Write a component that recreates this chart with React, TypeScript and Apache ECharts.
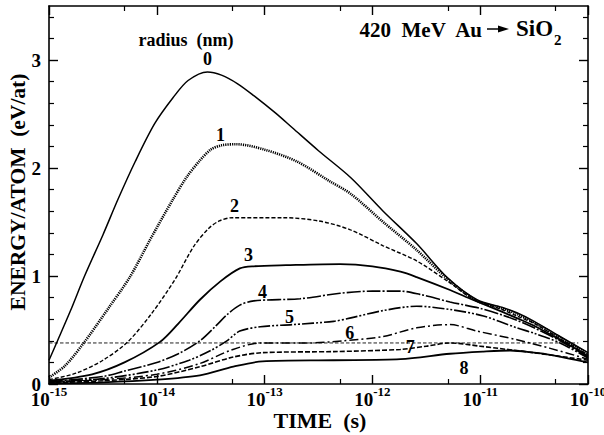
import React, { useEffect, useRef } from "react";
import * as echarts from "echarts";

const FONT = "Liberation Serif, Times New Roman, serif";

// log10(time / s) vs energy per atom (eV/at), one array per radius (nm)
const r0: [number, number][] = [
  [-15, 0.22], [-14.93, 0.38], [-14.8, 0.68], [-14.67, 1.0], [-14.5, 1.38], [-14.36, 1.71],
  [-14.2, 2.06], [-14.02, 2.41], [-13.85, 2.65], [-13.71, 2.81], [-13.53, 2.89], [-13.4, 2.86],
  [-13.25, 2.78], [-13.1, 2.67], [-12.9, 2.51], [-12.74, 2.37], [-12.5, 2.16], [-12.2, 1.91],
  [-11.9, 1.6], [-11.59, 1.3], [-11.3, 0.98], [-11.03, 0.78], [-10.8, 0.71], [-10.66, 0.66],
  [-10.5, 0.58], [-10.26, 0.44], [-10, 0.29],
];
const r1: [number, number][] = [
  [-15, 0.06], [-14.85, 0.17], [-14.67, 0.39], [-14.45, 0.7], [-14.25, 0.99], [-14.06, 1.34],
  [-13.85, 1.71], [-13.72, 1.92], [-13.6, 2.07], [-13.5, 2.17], [-13.4, 2.21], [-13.26, 2.22],
  [-13.0, 2.17], [-12.7, 2.06], [-12.4, 1.88], [-12.2, 1.76], [-11.9, 1.5], [-11.6, 1.25],
  [-11.3, 0.97], [-11.03, 0.77], [-10.8, 0.7], [-10.66, 0.65], [-10.5, 0.57], [-10.26, 0.43],
  [-10, 0.28],
];
const r2: [number, number][] = [
  [-15, 0.04], [-14.75, 0.1], [-14.5, 0.22], [-14.27, 0.39], [-14.05, 0.65], [-13.83, 0.97],
  [-13.66, 1.27], [-13.52, 1.44], [-13.42, 1.51], [-13.3, 1.54], [-12.83, 1.54], [-12.5, 1.51],
  [-12.21, 1.43], [-11.9, 1.28], [-11.59, 1.14], [-11.3, 0.95], [-11.07, 0.79], [-10.8, 0.69],
  [-10.66, 0.63], [-10.5, 0.56], [-10.26, 0.42], [-10, 0.27],
];
const r3: [number, number][] = [
  [-15, 0.03], [-14.6, 0.09], [-14.3, 0.2], [-13.97, 0.39], [-13.8, 0.56], [-13.6, 0.78],
  [-13.41, 0.95], [-13.23, 1.07], [-13.1, 1.09], [-12.8, 1.1], [-12.3, 1.11], [-12.0, 1.09],
  [-11.74, 1.04], [-11.59, 0.99], [-11.28, 0.87], [-11.07, 0.78], [-10.8, 0.67], [-10.66, 0.61],
  [-10.5, 0.54], [-10.26, 0.41], [-10, 0.26],
];
const r4: [number, number][] = [
  [-15, 0.02], [-14.5, 0.07], [-14.3, 0.12], [-14.0, 0.2], [-13.8, 0.28], [-13.6, 0.4],
  [-13.45, 0.54], [-13.35, 0.64], [-13.23, 0.73], [-13.1, 0.77], [-12.67, 0.79], [-12.3, 0.84],
  [-12.0, 0.86], [-11.74, 0.86], [-11.56, 0.83], [-11.28, 0.76], [-11.0, 0.7], [-10.8, 0.64],
  [-10.66, 0.59], [-10.5, 0.52], [-10.26, 0.4], [-10, 0.25],
];
const r5: [number, number][] = [
  [-15, 0.02], [-14.5, 0.05], [-14.0, 0.13], [-13.7, 0.22], [-13.5, 0.31], [-13.35, 0.4],
  [-13.23, 0.49], [-13.04, 0.53], [-12.74, 0.55], [-12.36, 0.58], [-12.21, 0.61], [-11.9, 0.68],
  [-11.59, 0.72], [-11.28, 0.69], [-10.97, 0.63], [-10.66, 0.52], [-10.5, 0.47], [-10.26, 0.38],
  [-10, 0.24],
];
const r6: [number, number][] = [
  [-15, 0.015], [-14.5, 0.04], [-14.0, 0.09], [-13.6, 0.19], [-13.32, 0.31], [-13.04, 0.38],
  [-12.6, 0.38], [-12.27, 0.4], [-11.9, 0.44], [-11.59, 0.52], [-11.28, 0.55], [-11.03, 0.49],
  [-10.66, 0.41], [-10.35, 0.33], [-10, 0.23],
];
const r7: [number, number][] = [
  [-15, 0.01], [-14.5, 0.03], [-14.0, 0.07], [-13.6, 0.16], [-13.29, 0.25], [-13.02, 0.29],
  [-12.36, 0.3], [-11.74, 0.32], [-11.5, 0.35], [-11.28, 0.38], [-11.0, 0.35], [-10.51, 0.29],
  [-10, 0.22],
];
const r8: [number, number][] = [
  [-15, 0.005], [-14.5, 0.015], [-14.0, 0.04], [-13.6, 0.08], [-13.29, 0.16], [-13.02, 0.21],
  [-12.36, 0.22], [-11.74, 0.23], [-11.28, 0.28], [-10.97, 0.3], [-10.72, 0.31], [-10.5, 0.29],
  [-10.35, 0.27], [-10, 0.2],
];
const reference: [number, number][] = [[-15, 0.38], [-10.09, 0.38]];

const curveNames = ["0", "1", "2", "3", "4", "5", "6", "7", "8"];
const labelX = [-13.53, -13.41, -13.28, -13.15, -13.02, -12.77, -12.21, -11.65, -11.15];
const labelY = [3.01, 2.31, 1.65, 1.19, 0.855, 0.62, 0.47, 0.34, 0.15];

const majorX = [-15, -14, -13, -12, -11, -10];
const minorX = [-14.301, -13.301, -12.301, -11.301, -10.301];
const majorY = [0, 1, 2, 3];
const minorY = [0.2, 0.4, 0.6, 0.8, 1.2, 1.4, 1.6, 1.8, 2.2, 2.4, 2.6, 2.8, 3.2, 3.4];

const curves = [r0, r1, r2, r3, r4, r5, r6, r7, r8];
const styles: { type: any; width: number }[] = [
  { type: "solid", width: 1.5 },
  { type: [1.2, 1], width: 2.6 },
  { type: [4, 2], width: 1.4 },
  { type: "solid", width: 1.8 },
  { type: [14, 2, 2, 2], width: 1.6 },
  { type: [12, 2, 2, 2, 2, 2], width: 1.6 },
  { type: [9, 3, 2, 3], width: 1.5 },
  { type: [5, 2], width: 1.6 },
  { type: "solid", width: 1.8 },
];

export default function App() {
  const ref = useRef<HTMLDivElement>(null);
  useEffect(() => {
    if (!ref.current) return;
    const chart = echarts.init(ref.current, null, { renderer: "svg" });
    const axisLine = { show: true, onZero: false, lineStyle: { color: "#000", width: 1.6 } };
    const noLine = { show: false, onZero: false };
    const tickMajor = (vals: number[]) => ({
      show: true, inside: true, length: 9, customValues: vals,
      lineStyle: { color: "#000", width: 1.4 },
    });
    const tickMinor = (vals: number[]) => ({
      show: true, inside: true, length: 5, customValues: vals,
      lineStyle: { color: "#000", width: 1.2 },
    });
    const baseX = { type: "value", min: -15, max: -10, splitLine: { show: false } };
    const baseY = { type: "value", min: 0, max: 3.5, splitLine: { show: false } };
    const series: any[] = curves.map((c, i) => ({
      type: "line",
      name: curveNames[i],
      data: c,
      showSymbol: false,
      smooth: 0.3,
      lineStyle: { color: "#000", width: styles[i].width, type: styles[i].type },
      z: 3,
    }));
    series.push({
      type: "line",
      data: reference,
      showSymbol: false,
      lineStyle: { color: "#222", width: 1, type: [3.5, 2] },
      z: 2,
    });
    series.push({
      type: "scatter",
      data: labelX.map((x, i) => ({ value: [x, labelY[i]], name: curveNames[i] })),
      symbolSize: 0.1,
      itemStyle: { color: "#000", opacity: 1 },
      label: {
        show: true,
        position: "inside",
        formatter: (p: any) => p.name,
        color: "#000",
        textBorderWidth: 0,
        textBorderColor: "transparent",
        fontFamily: FONT,
        fontWeight: "bold",
        fontSize: 18,
      },
      z: 5,
    });
    chart.setOption({
      animation: false,
      backgroundColor: "#fff",
      grid: { left: 49, top: 6, width: 539, height: 378, containLabel: false, outerBoundsMode: "none" },
      xAxis: [
        {
          ...baseX, position: "bottom", axisLine, axisTick: tickMajor(majorX),
          axisLabel: {
            show: true, customValues: majorX, margin: 1,
            formatter: (v: number) => `{b|10}{s|${v}}`,
            rich: {
              b: { fontFamily: FONT, fontWeight: "bold", fontSize: 19, color: "#000", lineHeight: 28 },
              s: { fontFamily: FONT, fontWeight: "bold", fontSize: 13, color: "#000", lineHeight: 13, verticalAlign: "top" },
            },
          },
        },
        { ...baseX, position: "bottom", axisLine: noLine, axisTick: tickMinor(minorX), axisLabel: { show: false } },
        { ...baseX, position: "top", axisLine, axisTick: tickMajor(majorX), axisLabel: { show: false } },
        { ...baseX, position: "top", axisLine: noLine, axisTick: tickMinor(minorX), axisLabel: { show: false } },
      ],
      yAxis: [
        {
          ...baseY, position: "left", axisLine, axisTick: tickMajor(majorY),
          axisLabel: {
            show: true, customValues: majorY, margin: 8,
            fontFamily: FONT, fontWeight: "bold", fontSize: 19, color: "#000",
          },
        },
        { ...baseY, position: "left", axisLine: noLine, axisTick: tickMinor(minorY), axisLabel: { show: false } },
        { ...baseY, position: "right", axisLine, axisTick: tickMajor(majorY), axisLabel: { show: false } },
        { ...baseY, position: "right", axisLine: noLine, axisTick: tickMinor(minorY), axisLabel: { show: false } },
      ],
      series,
      graphic: [
        {
          type: "text", x: 18, y: 192, rotation: Math.PI / 2,
          style: {
            text: "ENERGY/ATOM\u00a0 (eV/at)", fontFamily: FONT, fontWeight: "bold", fontSize: 21.5,
            fill: "#000", align: "center", verticalAlign: "middle",
          },
        },
        {
          type: "text", x: 320, y: 420,
          style: {
            text: "TIME\u00a0 (s)", fontFamily: FONT, fontWeight: "bold", fontSize: 22,
            fill: "#000", align: "center", verticalAlign: "middle",
          },
        },
        {
          type: "text", x: 186, y: 39.5,
          style: {
            text: "radius\u00a0 (nm)", fontFamily: FONT, fontWeight: "bold", fontSize: 18,
            fill: "#000", align: "center", verticalAlign: "middle",
          },
        },
        {
          type: "text", x: 482, y: 30,
          style: {
            text: "420\u00a0 MeV\u00a0 Au", fontFamily: FONT, fontWeight: "bold", fontSize: 21,
            fill: "#000", align: "right", verticalAlign: "middle",
          },
        },
        { type: "line", shape: { x1: 487, y1: 29, x2: 500, y2: 29 }, style: { stroke: "#000", lineWidth: 1.5 } },
        { type: "polygon", shape: { points: [[498, 25.5], [509, 29], [498, 32.5]] }, style: { fill: "#000" } },
        {
          type: "text", x: 516, y: 30,
          style: {
            text: "{a|SiO}{b|2}",
            align: "left", verticalAlign: "middle",
            rich: {
              a: { fontFamily: FONT, fontWeight: "bold", fontSize: 23, fill: "#000", color: "#000", lineHeight: 26, verticalAlign: "top" },
              b: { fontFamily: FONT, fontWeight: "bold", fontSize: 15, fill: "#000", color: "#000", lineHeight: 15, verticalAlign: "bottom", padding: [0, 0, -4, 1] },
            },
          },
        },
      ],
    });
    return () => chart.dispose();
  }, []);
  return <div ref={ref} style={{ position: "fixed", left: 0, top: 0, width: 604, height: 435 }} />;
}
